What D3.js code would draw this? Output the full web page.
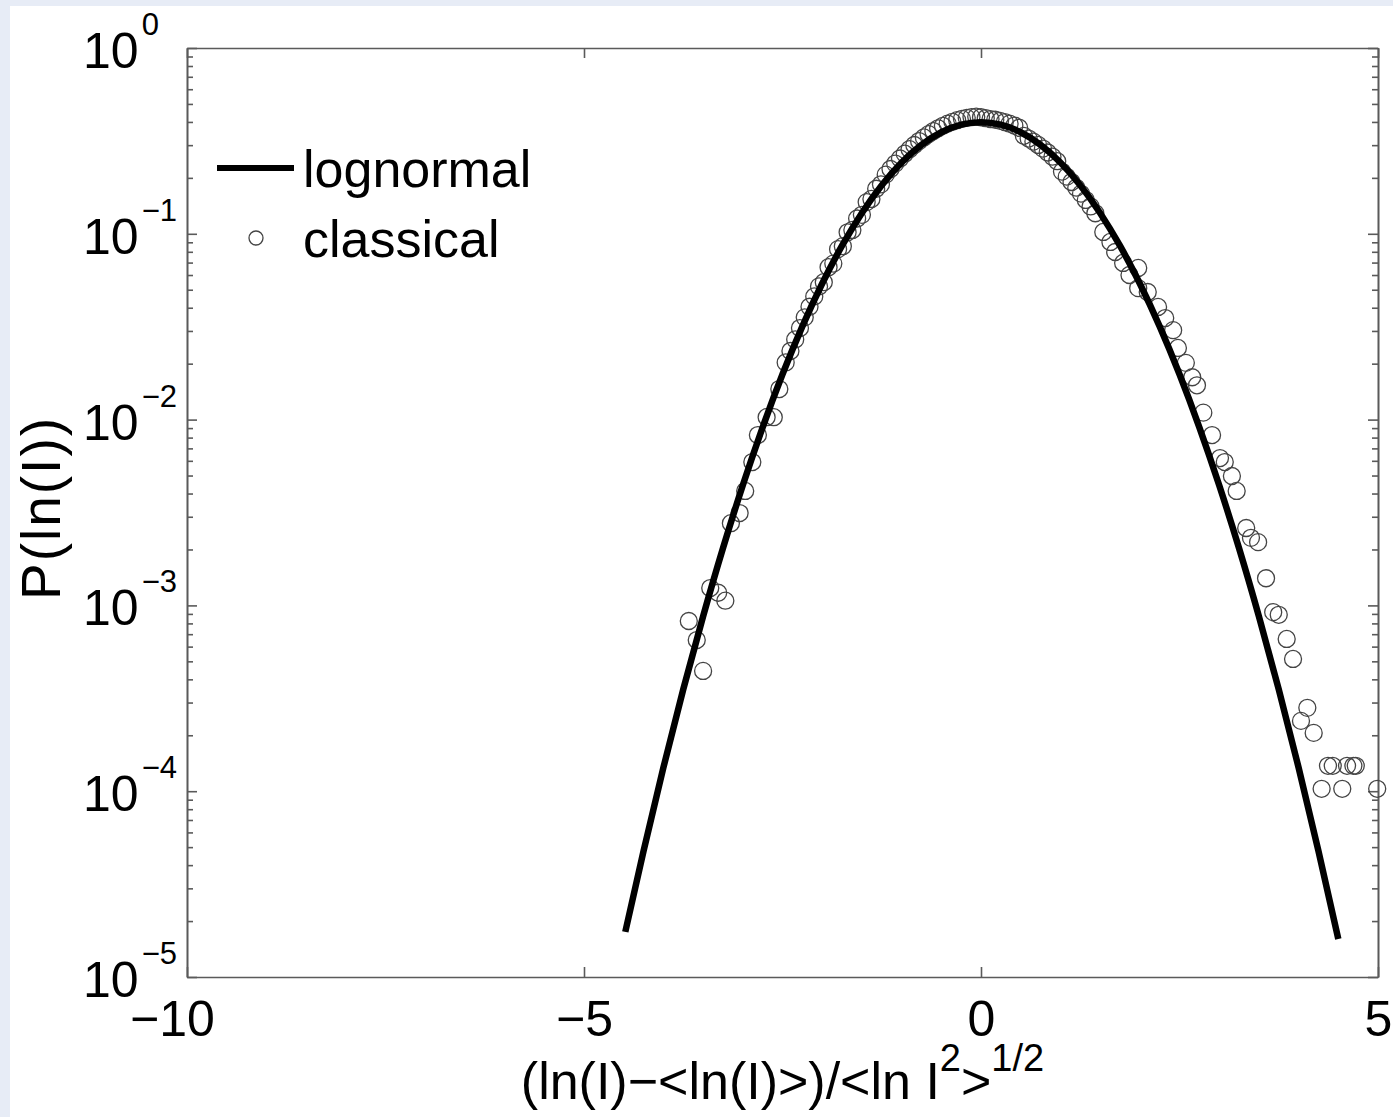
<!DOCTYPE html>
<html>
<head>
<meta charset="utf-8">
<script src="https://cdn.jsdelivr.net/npm/d3@7"></script>
<style>
  body { margin: 0; background: #e7ecf6; }
  svg { display: block; font-family: "Liberation Sans", Arial, Helvetica, sans-serif; }
  .axis path, .axis line { stroke: #5a5a5a; stroke-width: 1.6px; }
</style>
</head>
<body>
<svg id="myGraph" width="1393" height="1117"></svg>
<script>
// lognormal fit
let fitX = [-4.48, -4.25, -4, -3.75, -3.5, -3.25, -3, -2.75, -2.5, -2.25, -2, -1.75, -1.5, -1.25, -1, -0.75, -0.5, -0.25,
            0, 0.25, 0.5, 0.75, 1, 1.25, 1.5, 1.75, 2, 2.25, 2.5, 2.75, 3, 3.25, 3.5, 3.75, 4, 4.25, 4.5];
let fitP = [1.75e-5, 4.77e-5, 1.34e-4, 3.53e-4, 8.73e-4, 2.03e-3, 4.43e-3, 9.09e-3, 0.01753, 0.03174, 0.05399, 0.08628, 0.12952, 0.18265, 0.24197, 0.30114, 0.35207, 0.38667,
            0.39894, 0.38667, 0.35207, 0.30114, 0.24197, 0.18265, 0.12952, 0.08628, 0.05399, 0.03174, 0.01753, 9.09e-3, 4.43e-3, 2.03e-3, 8.73e-4, 3.53e-4, 1.34e-4, 4.77e-5, 1.60e-5];

// classical data points
let classicalX = [
  -3.68, -3.58, -3.50, -3.41, -3.31, -3.22, -3.15, -3.04, -2.97, -2.88, -2.81, -2.70, -2.61, -2.54,
  -2.46, -2.40, -2.34, -2.28, -2.22, -2.16, -2.10, -2.04, -1.98, -1.92, -1.86, -1.80, -1.74, -1.68, -1.62, -1.56,
  -1.50, -1.44, -1.38, -1.32, -1.26, -1.20, -1.14, -1.08, -1.02, -0.96, -0.90, -0.84, -0.78, -0.72, -0.66, -0.60,
  -0.54, -0.48, -0.42, -0.36, -0.30, -0.24, -0.18, -0.12, -0.06, 0.00,
  0.06, 0.12, 0.18, 0.24, 0.30, 0.36, 0.42, 0.48, 0.54, 0.60, 0.66, 0.72, 0.78, 0.84, 0.90, 0.96,
  1.02, 1.08, 1.14, 1.20, 1.26, 1.32, 1.38, 1.44,
  1.54, 1.63, 1.69, 1.79, 1.87, 1.98, 1.98, 2.10, 2.23, 2.32, 2.42, 2.48, 2.58, 2.66, 2.72,
  2.80, 2.91, 3.01, 3.07, 3.16, 3.22, 3.34, 3.40, 3.49, 3.59, 3.68, 3.75, 3.85, 3.93, 4.03, 4.11, 4.19,
  4.29, 4.37, 4.43, 4.55, 4.61, 4.69, 4.72, 4.99
];
let classicalP = [
  8.24e-4, 6.51e-4, 4.44e-4, 1.24e-3, 1.17e-3, 1.06e-3, 2.77e-3, 3.14e-3, 4.13e-3, 5.91e-3, 8.26e-3, 1.03e-2, 1.03e-2, 1.46e-2,
  0.0203, 0.0234, 0.0270, 0.0311, 0.0355, 0.0405, 0.0460, 0.0521, 0.0549, 0.0661, 0.0691, 0.0827, 0.0858, 0.1019, 0.1049, 0.1209,
  0.1265, 0.1481, 0.1540, 0.1748, 0.1846, 0.2082, 0.2233, 0.2387, 0.2542, 0.2698, 0.2853, 0.3005, 0.3155, 0.3301, 0.3440, 0.3572,
  0.3696, 0.3811, 0.3916, 0.4008, 0.4089, 0.4155, 0.4208, 0.4246, 0.4269, 0.4240,
  0.4190, 0.4147, 0.4110, 0.4058, 0.3993, 0.3915, 0.3825, 0.3722, 0.3369, 0.3255, 0.3135, 0.3008, 0.2875, 0.2739, 0.2600, 0.2459,
  0.2162, 0.2031, 0.1900, 0.1771, 0.1645, 0.1522, 0.1404, 0.1290,
  0.1023, 0.0904, 0.0798, 0.0697, 0.0600, 0.0655, 0.0510, 0.0486, 0.0404, 0.0352, 0.0303, 0.0243, 0.0202, 0.0169, 0.0153,
  1.09e-2, 8.26e-3, 6.21e-3, 5.91e-3, 4.97e-3, 4.13e-3, 2.61e-3, 2.31e-3, 2.19e-3, 1.40e-3, 9.2e-4, 8.9e-4, 6.6e-4, 5.15e-4, 2.39e-4, 2.81e-4, 2.06e-4,
  1.03e-4, 1.37e-4, 1.37e-4, 1.03e-4, 1.37e-4, 1.37e-4, 1.37e-4, 1.03e-4
];

let xTicks = [-10, -5, 0, 5];
let yExponents = [0, -1, -2, -3, -4, -5];
let legendNames = ["lognormal", "classical"];

let svg = d3.select("#myGraph");
let plotLeft = 187, plotRight = 1378, plotTop = 48, plotBottom = 977;

/* 背景 */
svg.append("rect")
   .attr("width", 1393).attr("height", 1117)
   .attr("fill", "#e7ecf6");
svg.append("rect")
   .attr("x", 10).attr("y", 6)
   .attr("width", 1383).attr("height", 1111)
   .attr("fill", "#ffffff");

let xScale = d3.scaleLinear()
    .domain([-10, 5])
    .range([plotLeft, plotRight]);
let yScale = d3.scaleLog()
    .domain([1e-5, 1])
    .range([plotBottom, plotTop]);

let majorY = yExponents.map(function(e){ return Math.pow(10, e); });
let minorY = [];
for(let e=-5; e<0; e++){
    for(let k=2; k<10; k++){
        minorY.push(k * Math.pow(10, e));
    }
}

/* 軸（目盛りは内向き） */
svg.append("g")
   .attr("class", "axis")
   .attr("transform", "translate(0," + plotBottom + ")")
   .call(d3.axisBottom(xScale).tickValues(xTicks).tickSizeInner(-10).tickSizeOuter(0).tickPadding(23))
   .selectAll("text")
   .attr("fill", "#000")
   .attr("dx", function(d){ return d == -10 ? -15 : 0; })
   .style("font-size", "50px")
   .style("font-family", "Liberation Sans, Arial, sans-serif");

svg.append("g")
   .attr("class", "axis")
   .attr("transform", "translate(0," + plotTop + ")")
   .call(d3.axisTop(xScale).tickValues(xTicks).tickSizeInner(-10).tickSizeOuter(0).tickFormat(""));

[plotLeft, plotRight].forEach(function(px, j){
    let axisFn = j == 0 ? d3.axisLeft : d3.axisRight;
    svg.append("g")
       .attr("class", "axis")
       .attr("transform", "translate(" + px + ",0)")
       .call(axisFn(yScale).tickValues(majorY).tickSizeInner(-10).tickSizeOuter(0).tickFormat(""));
    svg.append("g")
       .attr("class", "axis")
       .attr("transform", "translate(" + px + ",0)")
       .call(axisFn(yScale).tickValues(minorY).tickSizeInner(-6).tickSizeOuter(0).tickFormat(""));
});

// y tick labels 10^n
let yLabels = svg.append("g")
   .selectAll("text")
   .data(yExponents)
   .enter()
   .append("text")
   .attr("x", 83)
   .attr("y", function(d){ return yScale(Math.pow(10, d)) + 20; })
   .attr("fill", "#000")
   .style("font-size", "50px");
yLabels.append("tspan")
   .text("10");
yLabels.append("tspan")
   .attr("dx", 3)
   .attr("dy", -33)
   .style("font-size", "31px")
   .text(function(d){ return d == 0 ? "0" : "\u2212" + Math.abs(d); });

/* データ点 */
svg.append("g")
   .selectAll("circle")
   .data(classicalX)
   .enter()
   .append("circle")
   .attr("cx", function(d){ return xScale(d); })
   .attr("cy", function(d, i){ return yScale(classicalP[i]); })
   .attr("r", 8.5)
   .attr("fill", "none")
   .attr("stroke", "#444")
   .attr("stroke-width", 1.3);

let line = d3.line()
    .x(function(d){ return xScale(d); })
    .y(function(d, i){ return yScale(fitP[i]); })
    .curve(d3.curveMonotoneX);

svg.append("path")
   .datum(fitX)
   .attr("d", line)
   .attr("fill", "none")
   .attr("stroke", "#000")
   .attr("stroke-width", 6.5);

// legend
svg.append("line")
   .attr("x1", 217).attr("x2", 294)
   .attr("y1", 168).attr("y2", 168)
   .attr("stroke", "#000")
   .attr("stroke-width", 6);
svg.append("circle")
   .attr("cx", 256).attr("cy", 238)
   .attr("r", 7)
   .attr("fill", "none")
   .attr("stroke", "#444")
   .attr("stroke-width", 1.3);
svg.append("g")
   .selectAll("text")
   .data(legendNames)
   .enter()
   .append("text")
   .attr("x", 303)
   .attr("y", function(d, i){ return 187 + i * 70; })
   .style("font-size", "52px")
   .text(function(d){ return d; });

// axis titles
let xTitle = svg.append("text")
   .attr("x", (plotLeft + plotRight) / 2)
   .attr("y", 1099)
   .attr("text-anchor", "middle")
   .style("font-size", "52px");
xTitle.append("tspan").text("(ln(I)\u2212<ln(I)>)/<ln I");
xTitle.append("tspan").attr("dy", -28).style("font-size", "38px").text("2");
xTitle.append("tspan").attr("dy", 28).text(">");
xTitle.append("tspan").attr("dy", -28).style("font-size", "38px").text("1/2");

svg.append("text")
   .attr("transform", "translate(60,508) rotate(-90)")
   .attr("text-anchor", "middle")
   .style("font-size", "55px")
   .style("letter-spacing", "2px")
   .text("P(ln(I))");
</script>
</body>
</html>
